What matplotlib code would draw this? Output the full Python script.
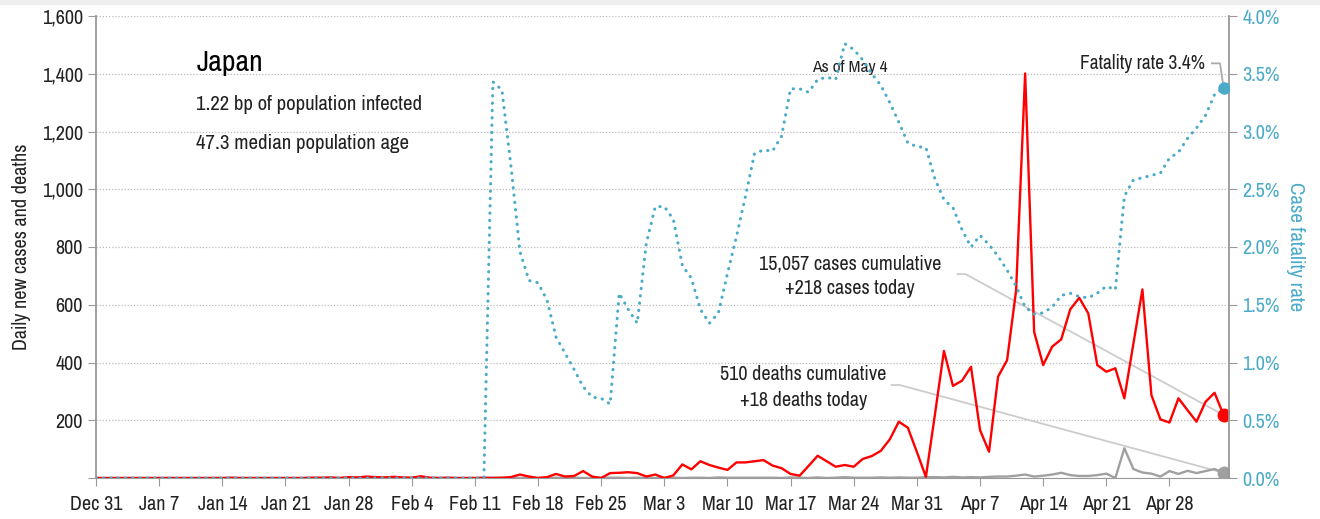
import matplotlib
matplotlib.use('Agg')
import matplotlib.pyplot as plt
from matplotlib.patches import Rectangle

plt.rcParams['font.family'] = ['Archivo Narrow', 'DejaVu Sans']

# day index 0 = Dec 31
tick_days = [0, 7, 14, 21, 28, 35, 42, 49, 56, 63, 70, 77, 84, 91, 98, 105, 112, 119]
tick_labels = ['Dec 31', 'Jan 7', 'Jan 14', 'Jan 21', 'Jan 28', 'Feb 4', 'Feb 11', 'Feb 18',
               'Feb 25', 'Mar 3', 'Mar 10', 'Mar 17', 'Mar 24', 'Mar 31', 'Apr 7', 'Apr 14',
               'Apr 21', 'Apr 28']

cases = [0] * 15 + [1] + [0] * 8 + [1, 1, 2, 0, 3, 2, 5, 3, 2, 4, 2, 1, 6, 1, 0, 1, 0, 0] + [
    0, 1, 0, 1, 3, 12, 5, 0, 3, 14, 5, 7, 24, 5, 0, 17, 18, 20, 17, 5, 12, 0, 9,
    47, 30, 58, 45, 36, 28, 54, 54, 58, 62, 43, 34, 14, 8, 42, 77, 58, 39, 45, 39,
    66, 76, 94, 134, 195, 174, 90, 4, 220, 440, 319, 337, 385, 166, 91, 351, 408,
    650, 1401, 506, 391, 455, 480, 584, 624, 570, 391, 368, 380, 276, 465, 653,
    287, 203, 192, 276, 235, 195, 264, 295, 218]

deaths = [0] * 44 + [
    1, 0, 0, 0, 0, 0, 1, 1, 0, 1, 0, 0, 1, 1, 1, 0, 1, 0, 0, 1, 1, 0, 1, 1, 0, 2,
    1, 1, 1, 1, 1, 1, 0, 2, 1, 0, 2, 0, 1, 3, 1, 1, 1, 2, 1, 2, 1, 1, 3, 3, 2, 4,
    2, 3, 2, 4,
    5, 5, 8, 12, 5, 8, 12, 18, 10, 7, 7, 10, 15, 0,
    103, 31, 19, 15, 5, 24, 14, 25, 17, 24, 31, 18]

fatality = [0] * 44 + [
    3.43, 3.36, 2.70, 1.96, 1.71, 1.69, 1.54, 1.22, 1.08, 0.94, 0.79, 0.70, 0.69,
    0.64, 1.60, 1.46, 1.34, 2.03, 2.35, 2.35, 2.24, 1.84, 1.73, 1.46, 1.34, 1.43,
    1.77, 2.09, 2.44, 2.81, 2.84, 2.83, 2.96, 3.37, 3.37, 3.34, 3.45, 3.47, 3.45,
    3.76, 3.71, 3.62, 3.50, 3.40, 3.25, 3.08, 2.90, 2.87, 2.86, 2.59, 2.41, 2.34,
    2.15, 2.00, 2.10, 2.02, 1.92, 1.80, 1.66, 1.48, 1.42, 1.43, 1.48, 1.58, 1.60,
    1.57, 1.56, 1.60, 1.66, 1.63, 2.44, 2.58, 2.60, 2.62, 2.64, 2.77, 2.82, 2.94,
    3.03, 3.14, 3.32, 3.38]

days = list(range(len(cases)))

red = '#ff0000'
grey = '#a0a0a0'
blue = '#4aabc8'
light = '#cccccc'
dark = '#222222'

fig = plt.figure(figsize=(13.2, 5.19), dpi=100)
ax = fig.add_axes([96 / 1320, 1 - 478 / 519, (1229 - 96) / 1320, (478 - 16) / 519])
fig.add_artist(Rectangle((0, 1 - 5 / 519), 1, 5 / 519, transform=fig.transFigure,
                         color='#eeeeee', lw=0))

ax.plot(days, deaths, color=grey, lw=1.7, zorder=3)
ax.plot(days, cases, color=red, lw=1.7, zorder=4)
ax.plot(days[-1], cases[-1], 'o', color=red, ms=9, zorder=5)
ax.plot(days[-1], deaths[-1], 'o', color=grey, ms=9, zorder=5)

ax.set_xlim(0, 125.6)
ax.set_ylim(0, 1600)
ax.set_yticks(range(0, 1601, 200))
ax.set_yticklabels(['{:,}'.format(v) if v else '' for v in range(0, 1601, 200)])
ax.set_xticks(tick_days)
ax.set_xticklabels(tick_labels)
ax.grid(axis='y', linestyle=(0, (1, 1.5)), color='#bbbbbb', lw=0.9)
ax.set_axisbelow(True)
for s in ['top', 'right']:
    ax.spines[s].set_visible(False)
ax.spines['left'].set_color('#999999')
ax.spines['bottom'].set_color('#999999')
ax.spines['left'].set_linewidth(1.3)
ax.tick_params(axis='both', colors='#999999', labelcolor=dark, labelsize=14.5, length=6)
ax.tick_params(axis='x', pad=6)
ax.set_ylabel('Daily new cases and deaths', fontsize=14.5, color=dark, labelpad=8)

ax2 = ax.twinx()
ax2.plot(days, fatality, color=blue, lw=2.2, linestyle=(0, (0.1, 2.3)),
         dash_capstyle='round', zorder=4)
ax2.plot(days[-1], fatality[-1], 'o', color=blue, ms=8, zorder=5)
ax2.set_ylim(0, 4)
ax2.set_yticks([i * 0.5 for i in range(9)])
ax2.set_yticklabels(['{:.1f}%'.format(i * 0.5) for i in range(9)])
for s in ['top', 'left', 'bottom']:
    ax2.spines[s].set_visible(False)
ax2.spines['right'].set_color('#999999')
ax2.spines['right'].set_linewidth(1.3)
ax2.tick_params(axis='y', colors='#999999', labelcolor=blue, labelsize=14.5, length=6)
ax2.set_ylabel('Case fatality rate', fontsize=15, color=blue, rotation=-90, labelpad=18)

# text blocks
ax.text(11.1, 1440, 'Japan', fontsize=21.5, color='black', va='center', fontweight='medium')
ax.text(11.1, 1295, '1.22 bp of population infected', fontsize=15, color=dark, va='center')
ax.text(11.1, 1157, '47.3 median population age', fontsize=15, color=dark, va='center')
ax.text(83.6, 1423, 'As of May 4', fontsize=12.5, color=dark, ha='center', va='center')

ax.text(83.6, 741, '15,057 cases cumulative', fontsize=14.5, color=dark, ha='center', va='center')
ax.text(83.6, 655, '+218 cases today', fontsize=14.5, color=dark, ha='center', va='center')
ax.plot([95.5, 96.4, days[-1]], [706, 706, cases[-1]], color=light, lw=1.3, zorder=2)

ax.text(78.4, 357, '510 deaths cumulative', fontsize=14.5, color=dark, ha='center', va='center')
ax.text(78.4, 270, '+18 deaths today', fontsize=14.5, color=dark, ha='center', va='center')
ax.plot([88.2, 89.1, days[-1]], [322, 322, deaths[-1]], color=light, lw=1.3, zorder=2)

ax2.text(122.9, 3.585, 'Fatality rate 3.4%', fontsize=14, color=dark, ha='right', va='center')
ax2.plot([123.7, 124.6, days[-1]], [3.59, 3.59, fatality[-1]], color='#aaaaaa', lw=1.3, zorder=3)

fig.savefig('out.png', dpi=100)
